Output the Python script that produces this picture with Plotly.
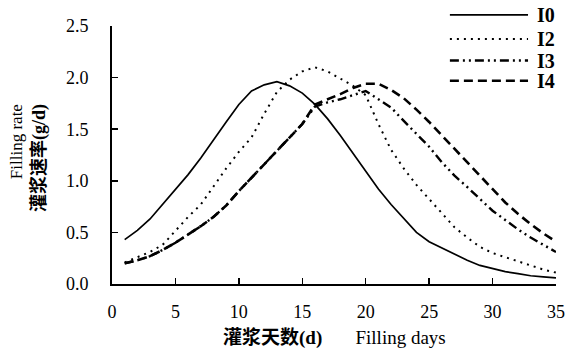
import plotly.graph_objects as go

days = list(range(1, 36))
I0 = [0.43, 0.52, 0.63, 0.77, 0.92, 1.06, 1.22, 1.40, 1.57, 1.74, 1.87, 1.93, 1.96, 1.92, 1.85,
      1.74, 1.60, 1.44, 1.27, 1.10, 0.92, 0.77, 0.63, 0.50, 0.41, 0.35, 0.29, 0.23, 0.18, 0.15,
      0.12, 0.10, 0.08, 0.07, 0.06]
I2 = [0.21, 0.26, 0.31, 0.38, 0.52, 0.65, 0.77, 0.95, 1.12, 1.28, 1.42, 1.65, 1.86, 1.98, 2.06,
      2.10, 2.06, 1.99, 1.92, 1.83, 1.55, 1.30, 1.12, 0.96, 0.82, 0.68, 0.55, 0.45, 0.36, 0.30,
      0.26, 0.22, 0.18, 0.14, 0.11]
I3 = [0.20, 0.23, 0.27, 0.33, 0.40, 0.48, 0.56, 0.65, 0.76, 0.90, 1.03, 1.16, 1.29, 1.41, 1.55,
      1.72, 1.76, 1.79, 1.83, 1.87, 1.79, 1.71, 1.58, 1.46, 1.33, 1.18, 1.05, 0.94, 0.82, 0.71,
      0.62, 0.53, 0.45, 0.38, 0.31]
I4 = [0.20, 0.23, 0.27, 0.33, 0.40, 0.48, 0.56, 0.65, 0.76, 0.90, 1.03, 1.16, 1.29, 1.41, 1.55,
      1.74, 1.79, 1.84, 1.90, 1.94, 1.94, 1.88, 1.80, 1.69, 1.57, 1.44, 1.31, 1.17, 1.04, 0.91,
      0.79, 0.68, 0.58, 0.49, 0.41]
series_names = ["I0", "I2", "I3", "I4"]
x_ticks = [0, 5, 10, 15, 20, 25, 30, 35]
y_ticks = [0.0, 0.5, 1.0, 1.5, 2.0, 2.5]

serif = "Liberation Serif"
cjk = "Noto Sans CJK SC"
styles = [
    dict(dash="solid", width=1.7),
    dict(dash="2px,5px", width=2.0),
    dict(dash="9px,4px,2px,4px,2px,4px", width=2.4),
    dict(dash="9px,5px", width=2.6),
]

fig = go.Figure()
for name, vals, st in zip(series_names, [I0, I2, I3, I4], styles):
    fig.add_trace(go.Scatter(x=days, y=vals, mode="lines", name=name, showlegend=False,
                             line=dict(color="black", **st)))

# legend drawn by hand (sample line + label), placed in paper coordinates
legend_rows_y = [1.043, 0.950, 0.866, 0.788]
for name, st, ly in zip(series_names, styles, legend_rows_y):
    fig.add_shape(type="line", xref="paper", yref="paper", x0=0.761, x1=0.937, y0=ly, y1=ly,
                  line=dict(color="black", **st))
    fig.add_annotation(xref="paper", yref="paper", x=0.952, y=ly, xanchor="left",
                       yanchor="middle", showarrow=False, text="<b>" + name + "</b>",
                       font=dict(family=serif, size=20, color="black"))

fig.update_layout(
    width=566, height=354,
    margin=dict(l=112, r=10, t=26, b=70, autoexpand=False),
    paper_bgcolor="white", plot_bgcolor="white",
    font=dict(family=serif, size=18, color="black"),
    showlegend=False,
    xaxis=dict(range=[0, 35], tickvals=x_ticks, showgrid=False, zeroline=False,
               showline=True, linecolor="black", linewidth=2,
               ticks="inside", ticklen=6, tickwidth=1.5, tickcolor="black",
               ticklabelstandoff=10),
    yaxis=dict(range=[0, 2.5], tickvals=y_ticks, tickformat=".1f", showgrid=False,
               zeroline=False, showline=True, linecolor="black", linewidth=2,
               ticks="inside", ticklen=6, tickwidth=1.5, tickcolor="black",
               ticklabelstandoff=18),
)

fig.add_annotation(xref="paper", yref="paper", x=0.5, y=0, yshift=-54,
                   xanchor="center", yanchor="middle", showarrow=False,
                   text="<b>灌浆天数(d)</b>&nbsp;&nbsp;&nbsp;&nbsp;&nbsp;&nbsp;&nbsp;Filling days",
                   font=dict(family=serif + ", " + cjk, size=19, color="black"))
fig.add_annotation(xref="paper", yref="paper", x=0, xshift=-84, y=0.488,
                   xanchor="center", yanchor="middle", showarrow=False, textangle=-90,
                   align="right",
                   text="<span style='font-size:17px'>Filling rate</span><br><b>灌浆速率(g/d)</b>",
                   font=dict(family=serif + ", " + cjk, size=18, color="black"))

fig.write_html(
    "out.html",
    config={"displayModeBar": False, "staticPlot": True},
    post_script="document.body.style.margin='0';document.body.style.overflow='hidden';",
)
